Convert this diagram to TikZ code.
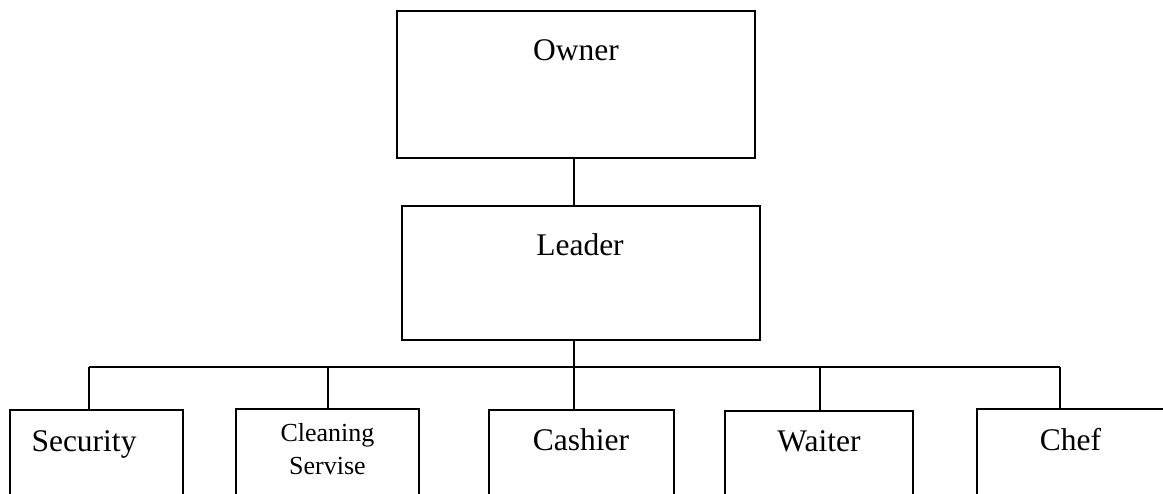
\documentclass[tikz,border=0pt]{standalone}
\usepackage{fontspec}
\setmainfont{Liberation Serif}
\begin{document}
\begin{tikzpicture}[x=1pt,y=-1pt,
  box/.style={draw,line width=1.5pt,inner sep=0pt,rectangle},
  lbl/.style={anchor=base,inner sep=0pt,font=\fontsize{31.5}{38}\selectfont},
  small/.style={anchor=base,inner sep=0pt,font=\fontsize{26}{33}\selectfont},
  conn/.style={line width=1.5pt}]
\useasboundingbox (0,0) rectangle (1163,494);
\clip (0,0) rectangle (1163,494);
% boxes
\node[box,minimum width=358pt,minimum height=147pt] (owner) at (576,84.5) {};
\node[box,minimum width=358pt,minimum height=134pt] (leader) at (581,273) {};
\node[box,minimum width=173pt,minimum height=90pt] (sec) at (96.5,455) {};
\node[box,minimum width=183pt,minimum height=91pt] (clean) at (327.5,454.5) {};
\node[box,minimum width=185pt,minimum height=90pt] (cash) at (581.5,455) {};
\node[box,minimum width=188pt,minimum height=89pt] (wait) at (819,455.5) {};
\node[box,minimum width=193pt,minimum height=91pt] (chef) at (1073.5,454.5) {};
% texts
\node[lbl] (ownerT) at (576,61) {Owner};
\node[lbl] (leaderT) at (580,256) {Leader};
\node[lbl] (secT) at (84,451) {Security};
\node[small] (cleanTa) at (327.5,442) {Cleaning};
\node[small] (cleanTb) at (327.5,475) {Servise};
\node[lbl] (cashT) at (581,450) {Cashier};
\node[lbl] (waitT) at (819,452) {Waiter};
\node[lbl] (chefT) at (1070.5,450) {Chef};
% connectors
\coordinate (busM) at (574,367);
\coordinate (busL) at (89,367);
\coordinate (busC) at (328,367);
\coordinate (busW) at (820,367);
\coordinate (busR) at (1060,367);
\draw[conn] (busM |- owner.south) -- (busM |- leader.north);
\draw[conn] (busM |- leader.south) -- (busM |- cash.north);
\draw[conn] (busL) -- (busR);
\draw[conn] (busL) -- (busL |- sec.north);
\draw[conn] (busC) -- (busC |- clean.north);
\draw[conn] (busW) -- (busW |- wait.north);
\draw[conn] (busR) -- (busR |- chef.north);
\end{tikzpicture}
\end{document}
